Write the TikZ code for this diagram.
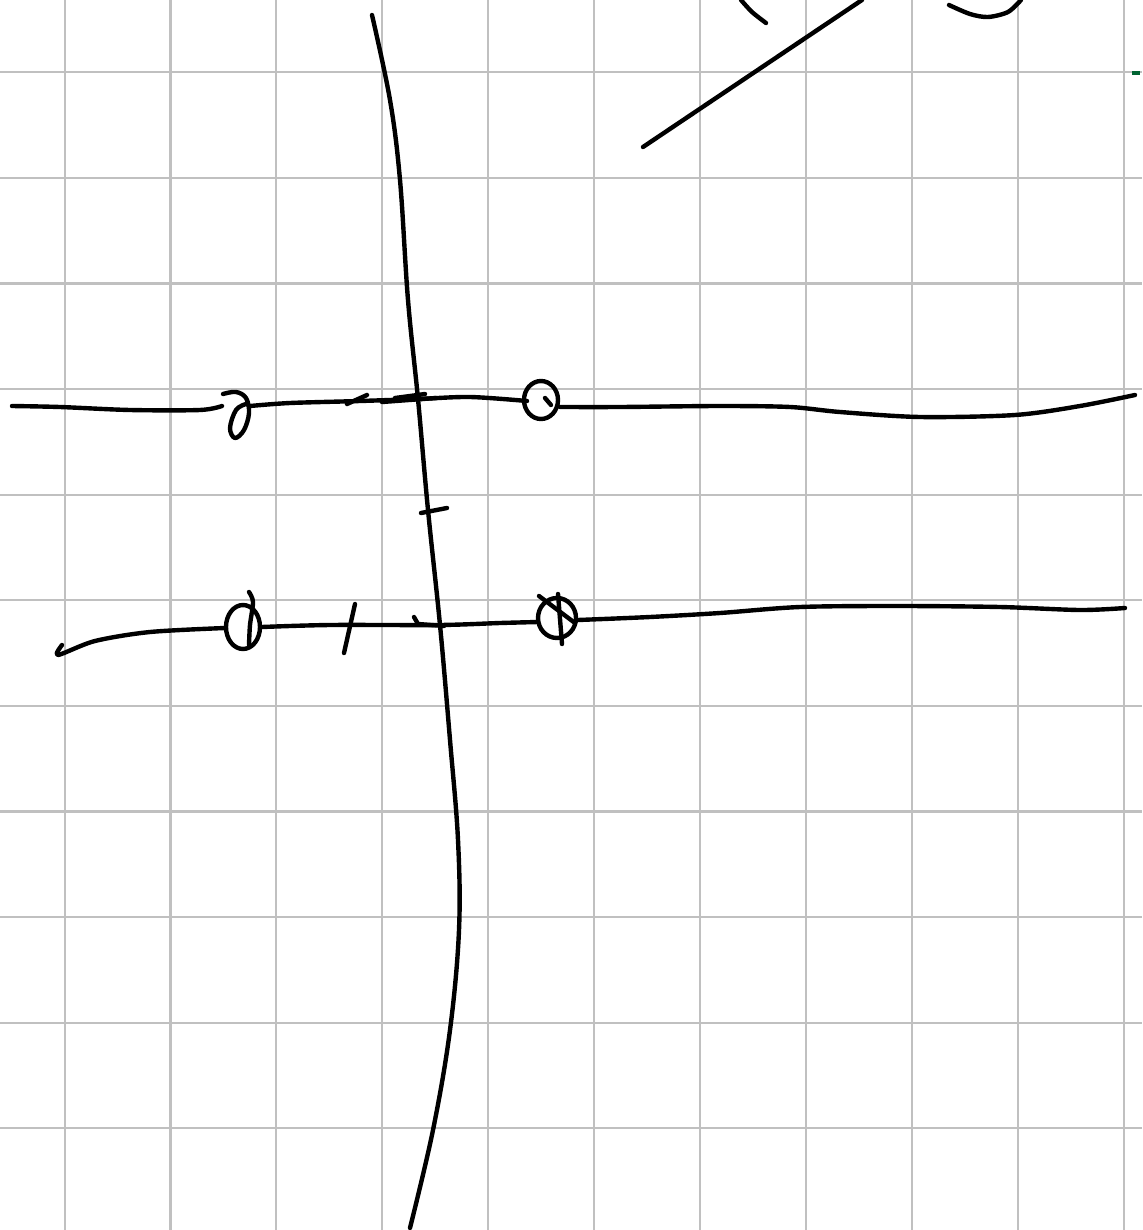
\documentclass[tikz,border=0pt]{standalone}
\usepackage{tikz}
\usepackage{xcolor}
\definecolor{gridgray}{RGB}{192,192,192}
\definecolor{inkgreen}{RGB}{0,100,50}
\tikzset{gridline/.style={gridgray,line width=0.6pt},
  pen/.style={black,line width=1.25pt,line cap=round,line join=round}}

\begin{document}
\begin{tikzpicture}[x=0.01cm,y=-0.01cm]
  \useasboundingbox (0,0) rectangle (1142,1230);
  \fill[white] (0,0) rectangle (1142,1230);
  % grid paper
  \foreach \i in {0,...,10} \draw[gridline] ({64.6+105.9*\i},0) -- ({64.6+105.9*\i},1230);
  \foreach \j in {0,...,10} \draw[gridline] (0,{72.3+105.6*\j}) -- (1142,{72.3+105.6*\j});
  \coordinate (A) at (418,399); \coordinate (B) at (440,625);
  % axis and the two lines
  \draw[pen] plot[smooth,tension=0.6] coordinates {(372,15) (390,100) (400,180) (408,300) (A) (428,510) (B) (450,740) (458,840) (459,930) (450,1030) (433,1130) (410,1228)};
  \draw[pen] plot[smooth,tension=0.5] coordinates {(12,406) (60,407) (130,410) (200,410) (222,406)};
  \draw[pen] plot[smooth,tension=0.5] coordinates {(250,406) (290,403) (360,401) (A) (470,397) (527,401)};
  \draw[pen] plot[smooth,tension=0.5] coordinates {(560,407) (620,407) (720,406) (790,407) (840,412) (920,417) (1015,415) (1080,406) (1135,395)};
  \draw[pen] plot[smooth,tension=0.5] coordinates {(62,645) (58,655) (95,641) (150,632) (225,628)};
  \draw[pen] plot[smooth,tension=0.5] coordinates {(262,627) (330,625) (B) (500,623) (538,622)};
  \draw[pen] plot[smooth,tension=0.5] coordinates {(578,620) (650,617) (720,613) (800,607) (900,606) (1000,607) (1080,610) (1125,608)};
  % marks on the upper line
  \draw[pen] plot[smooth,tension=0.6] coordinates {(223,394) (236,392) (246,398) (249,413) (244,430) (235,438) (230,428) (236,410) (246,404)};
  \draw[pen] (347,404) -- (367,395);
  \draw[pen] (382,402) -- (436,398); \draw[pen] (395,398) -- (425,394);
  \draw[pen] (541,400) ellipse (17 and 19);
  \draw[pen] (545,398) -- (551,405);
  % marks on the vertical
  \draw[pen] (421,513) -- (447,508);
  \draw[pen] (414,617) -- (418,624) -- (444,626);
  % marks on the lower line
  \draw[pen] (243,627) ellipse (17 and 22);
  \draw[pen] plot[smooth] coordinates {(249,592) (253,602) (250,625) (249,645)};
  \draw[pen] (355,604) -- (344,653);
  \draw[pen] (557,618) ellipse (19 and 20);
  \draw[pen] (539,596) -- (575,623);
  \draw[pen] (558,594) -- (562,644);
  % top right
  \draw[pen] (643,147) -- (862,0);
  \draw[pen] plot[smooth] coordinates {(741,0) (752,12) (766,23)};
  \draw[pen] plot[smooth] coordinates {(949,5) (970,14) (988,17) (1008,12) (1021,0)};
  \draw[inkgreen,line width=1.2pt] (1132,73) -- (1140,73);
\end{tikzpicture}
\end{document}
